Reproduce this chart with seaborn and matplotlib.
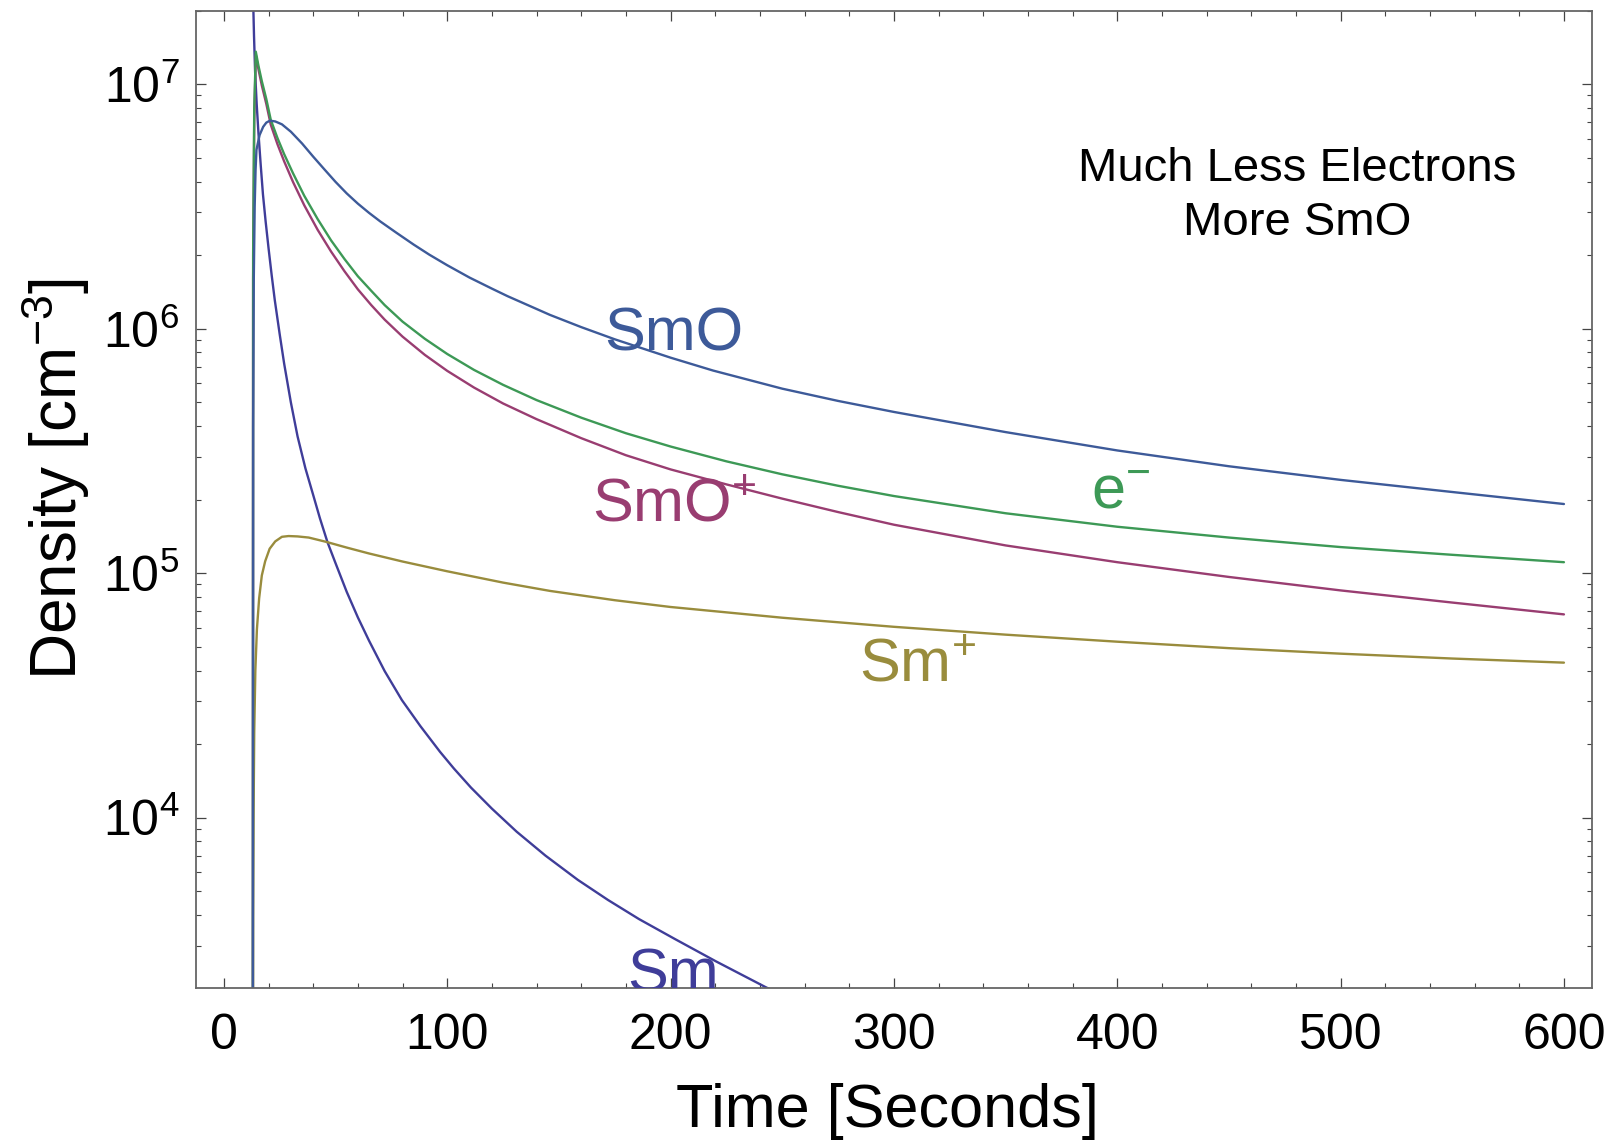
import numpy as np
import pandas as pd
import matplotlib
matplotlib.use("Agg")
import matplotlib.pyplot as plt
import seaborn as sns
from matplotlib.ticker import MultipleLocator, LogLocator, FixedLocator, NullFormatter

sns.set_style("white")
plt.rcParams["font.family"] = ["Liberation Sans", "DejaVu Sans"]
plt.rcParams["mathtext.fontset"] = "custom"
plt.rcParams["mathtext.rm"] = "Liberation Sans"
plt.rcParams["mathtext.it"] = "Liberation Sans:italic"
plt.rcParams["mathtext.bf"] = "Liberation Sans:bold"
plt.rcParams["text.color"] = "black"
plt.rcParams["axes.labelcolor"] = "black"

# ---------------- data ----------------
sm_t = [12.95, 13.1, 13.5, 14.0, 14.7, 15.5, 16.5, 17.5, 18.7, 20.0, 21.4, 22.8, 25.0, 27.0, 30.0,
        33.0, 36.5, 40.0, 43.0, 46.4, 50.0, 55.0, 60.0, 65.0, 72.0, 79.7, 88.0, 96.8, 103.0, 110.6,
        120.0, 131.1, 144.0, 158.5, 172.0, 185.9, 202.0, 220.2, 242.5, 250.0]
sm_v = [3e8, 2.24e7, 1.58e7, 1.12e7, 8.3e6, 6.3e6, 4.68e6, 3.55e6, 2.75e6, 2.14e6, 1.66e6, 1.31e6,
        9.5e5, 7.2e5, 5.0e5, 3.63e5, 2.69e5, 2.09e5, 1.68e5, 1.34e5, 1.10e5, 8.4e4, 6.6e4, 5.3e4,
        3.98e4, 3.03e4, 2.37e4, 1.86e4, 1.59e4, 1.33e4, 1.09e4, 8.77e3, 7.0e3, 5.57e3, 4.61e3,
        3.85e3, 3.19e3, 2.59e3, 2.03e3, 1.88e3]

smo_plus_t = [12.95, 13.1, 13.6, 14.3, 15.5, 17.0, 19.0, 21.0, 24.0, 27.0, 31.0, 36.0, 42.0, 48.0,
              54.0, 60.0, 66.0, 72.0, 80.0, 90.0, 100.0, 112.0, 125.0, 140.0, 160.0, 180.0, 200.0,
              225.0, 250.0, 275.0, 300.0, 350.0, 400.0, 450.0, 500.0, 550.0, 600.0]
smo_plus_v = [1e2, 1.6e6, 7.1e6, 1.32e7, 1.15e7, 9.89e6, 8.32e6, 6.84e6, 5.69e6, 4.84e6, 3.98e6,
              3.20e6, 2.54e6, 2.07e6, 1.72e6, 1.45e6, 1.25e6, 1.09e6, 9.29e5, 7.82e5, 6.73e5, 5.75e5,
              4.95e5, 4.27e5, 3.57e5, 3.04e5, 2.66e5, 2.31e5, 2.02e5, 1.78e5, 1.58e5, 1.30e5,
              1.11e5, 9.66e4, 8.51e4, 7.59e4, 6.79e4]

sm_plus_t = [12.95, 13.1, 13.3, 13.6, 14.1, 14.8, 15.8, 17.0, 18.5, 20.5, 23.0, 26.0, 29.0, 33.0,
             38.0, 46.0, 55.0, 65.0, 80.0, 100.0, 125.0, 146.0, 175.0, 200.0, 250.0, 300.0, 350.0,
             400.0, 450.0, 500.0, 550.0, 600.0]
sm_plus_v = [1e2, 4.0e3, 1.0e4, 2.24e4, 4.0e4, 5.9e4, 7.9e4, 9.8e4, 1.12e5, 1.26e5, 1.35e5, 1.41e5,
             1.42e5, 1.415e5, 1.40e5, 1.343e5, 1.274e5, 1.205e5, 1.117e5, 1.019e5, 9.16e4, 8.47e4,
             7.76e4, 7.28e4, 6.58e4, 6.04e4, 5.61e4, 5.25e4, 4.94e4, 4.69e4, 4.48e4, 4.31e4]

e_t = [12.95, 13.1, 13.6, 14.3, 15.5, 17.0, 19.0, 21.0, 24.0, 27.0, 31.0, 36.0, 42.0, 48.0, 54.0,
       60.0, 66.0, 72.0, 80.0, 90.0, 100.0, 112.0, 125.0, 140.0, 160.0, 180.0, 200.0, 225.0, 250.0,
       275.0, 300.0, 350.0, 400.0, 450.0, 500.0, 550.0, 600.0]
e_v = [1e2, 2.0e6, 7.9e6, 1.36e7, 1.19e7, 1.03e7, 8.71e6, 7.16e6, 6.03e6, 5.18e6, 4.32e6, 3.50e6,
       2.81e6, 2.30e6, 1.93e6, 1.64e6, 1.43e6, 1.25e6, 1.07e6, 9.10e5, 7.89e5, 6.79e5, 5.90e5,
       5.11e5, 4.33e5, 3.74e5, 3.30e5, 2.87e5, 2.54e5, 2.28e5, 2.07e5, 1.76e5, 1.55e5, 1.40e5,
       1.28e5, 1.19e5, 1.11e5]

smo_t = [12.95, 13.1, 13.4, 13.8, 14.2, 14.6, 16.0, 17.6, 19.0, 20.6, 23.0, 26.0, 30.0, 35.0, 40.0,
         45.0, 50.0, 55.0, 60.0, 65.0, 70.0, 77.0, 85.0, 92.0, 100.0, 110.0, 120.0, 127.0, 146.0,
         160.0, 175.0, 200.0, 219.0, 250.0, 275.0, 300.0, 350.0, 400.0, 450.0, 500.0, 550.0, 600.0]
smo_v = [1e2, 4.0e5, 1.6e6, 3.16e6, 4.47e6, 5.4e6, 6.2e6, 6.7e6, 6.97e6, 7.10e6, 7.05e6, 6.86e6,
         6.40e6, 5.73e6, 5.06e6, 4.49e6, 3.99e6, 3.58e6, 3.25e6, 2.98e6, 2.75e6, 2.48e6, 2.21e6,
         2.01e6, 1.82e6, 1.62e6, 1.46e6, 1.36e6, 1.14e6, 1.016e6, 9.06e5, 7.62e5, 6.75e5, 5.69e5,
         5.07e5, 4.57e5, 3.78e5, 3.18e5, 2.74e5, 2.41e5, 2.15e5, 1.92e5]

species = ["Sm", "SmO+", "Sm+", "e-", "SmO"]
colors = ["#3f3d99", "#993d71", "#998c3d", "#3d9956", "#3d5a99"]
x_ticks = [0, 100, 200, 300, 400, 500, 600]
y_ticks = [1e4, 1e5, 1e6, 1e7]
y_tick_labels = [r"$\mathregular{10^{4}}$", r"$\mathregular{10^{5}}$",
                 r"$\mathregular{10^{6}}$", r"$\mathregular{10^{7}}$"]

series = {"Sm": (sm_t, sm_v), "SmO+": (smo_plus_t, smo_plus_v), "Sm+": (sm_plus_t, sm_plus_v),
          "e-": (e_t, e_v), "SmO": (smo_t, smo_v)}
df = pd.concat([pd.DataFrame({"time": t, "density": v, "species": k}) for k, (t, v) in series.items()],
               ignore_index=True)
palette = dict(zip(species, colors))

# ---------------- figure ----------------
fig = plt.figure(figsize=(16.18, 11.40), dpi=100)
ax = fig.add_axes([0.1211, 0.1336, 0.8626, 0.8570])

sns.lineplot(data=df, x="time", y="density", hue="species", hue_order=species, palette=palette,
             estimator=None, sort=False, linewidth=1.7, legend=False, ax=ax)

ax.set_yscale("log")
ax.set_xlim(-12.5, 612.4)
ax.set_ylim(2018, 2.0e7)

ax.set_xticks(x_ticks)
ax.set_xticklabels([str(v) for v in x_ticks])
ax.xaxis.set_minor_locator(MultipleLocator(20))
ax.yaxis.set_major_locator(FixedLocator(y_ticks))
ax.set_yticklabels(y_tick_labels)
ax.yaxis.set_minor_locator(LogLocator(base=10, subs=np.arange(2, 10), numticks=30))
ax.yaxis.set_minor_formatter(NullFormatter())

ax.tick_params(which="both", direction="in", bottom=True, left=True, top=True, right=True,
               color="#444444", labelcolor="black")
ax.tick_params(which="major", length=7.2, width=0.9, labelsize=36)
ax.tick_params(which="minor", length=3.6, width=0.8)
ax.tick_params(axis="x", which="major", pad=18)
ax.tick_params(axis="y", which="major", pad=12)
for s in ax.spines.values():
    s.set_color("#666666")
    s.set_linewidth(1.3)
ax.set_xlabel("")
ax.set_ylabel("")

fig.text(0.5485, 0.0114, "Time [Seconds]", ha="center", va="baseline", fontsize=44, color="black")
fig.text(0.0477, 0.5800, "Density [cm$^{-3}$]", rotation=90, rotation_mode="anchor",
         ha="center", va="baseline", fontsize=46, color="black")

# curve labels
ax.text(201.4, 8.13e5, "SmO", color=palette["SmO"], fontsize=44, ha="center", va="baseline")
ax.text(201.6, 1.64e5, "SmO$^{+}$", color=palette["SmO+"], fontsize=44, ha="center", va="baseline")
ax.text(401.7, 1.84e5, "e$^{-}$", color=palette["e-"], fontsize=44, ha="center", va="baseline")
ax.text(310.5, 3.62e4, "Sm$^{+}$", color=palette["Sm+"], fontsize=44, ha="center", va="baseline")
ax.text(201.0, 1.95e3, "Sm", color=palette["Sm"], fontsize=44, ha="center", va="baseline", clip_on=True)

ax.text(0.789, 0.826, "Much Less Electrons", transform=ax.transAxes, fontsize=34,
        ha="center", va="baseline", color="black")
ax.text(0.789, 0.770, "More SmO", transform=ax.transAxes, fontsize=34,
        ha="center", va="baseline", color="black")

fig.savefig("out.png", dpi=100)
